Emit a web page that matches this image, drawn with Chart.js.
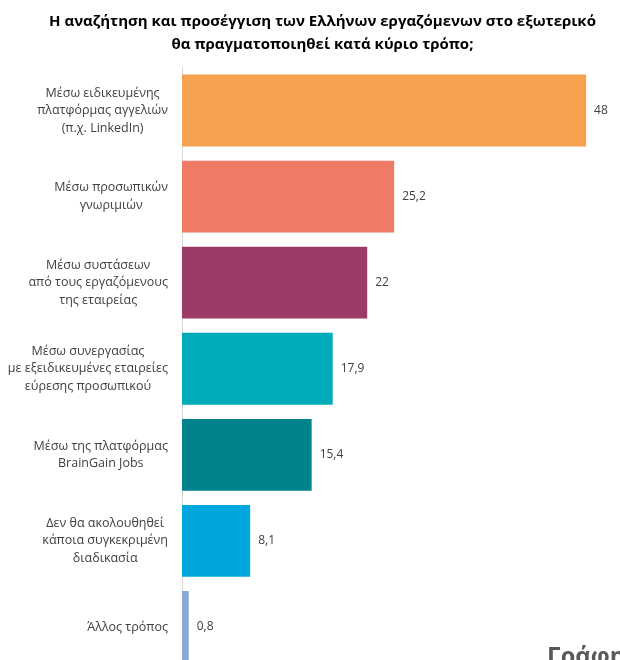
<!DOCTYPE html>
<html>
<head>
<meta charset="utf-8">
<script src="https://cdn.jsdelivr.net/npm/chart.js@4"></script>
<style>
  html, body { margin: 0; padding: 0; background: #fff; overflow: hidden; }
  #wrap { position: absolute; left: 0; top: 0; width: 666px; height: 680px; }
</style>
</head>
<body>
<div id="wrap"><canvas id="waysBar" width="666" height="680"></canvas></div>
<script>
// ===================== τρόποι αναζήτησης εργαζομένων =====================
var categories = [
  ["Μέσω ειδικευμένης", "πλατφόρμας αγγελιών", "(π.χ. LinkedIn)"],
  ["Μέσω προσωπικών", "γνωριμιών"],
  ["Μέσω συστάσεων", "από τους εργαζόμενους", "της εταιρείας"],
  ["Μέσω συνεργασίας", "με εξειδικευμένες εταιρείες", "εύρεσης προσωπικού"],
  ["Μέσω της πλατφόρμας", "BrainGain Jobs"],
  ["Δεν θα ακολουθηθεί", "κάποια συγκεκριμένη", "διαδικασία"],
  ["Άλλος τρόπος"]
];
var values = [48, 25.2, 22, 17.9, 15.4, 8.1, 0.8];
var valueLabels = ["48", "25,2", "22", "17,9", "15,4", "8,1", "0,8"];
var barColors = ["#F5A14D", "#EF7B67", "#9C3B67", "#00ACB9", "#00838A", "#00A7DC", "#8AAAD8"];

var FONT = "'Open Sans', sans-serif";

// ετικέτες κατηγοριών (κάθε μπλοκ δεξιά, γραμμές στο κέντρο) + τιμές
var labelsPlugin = {
  id: "labelsPlugin",
  afterDraw: function (chart) {
    var ctx = chart.ctx;
    var yScale = chart.scales.y;
    var meta = chart.getDatasetMeta(0);
    ctx.save();
    ctx.fillStyle = "#404040";
    ctx.textBaseline = "middle";
    ctx.font = "12.5px " + FONT;
    var right = chart.chartArea.left - 14;
    var lh = 17.5;
    categories.forEach(function (lines, i) {
      var yc = yScale.getPixelForValue(i);
      var w = 0;
      lines.forEach(function (l) { w = Math.max(w, ctx.measureText(l).width); });
      var cx = right - w / 2;
      ctx.textAlign = "center";
      lines.forEach(function (l, k) {
        ctx.fillText(l, cx, yc + (k - (lines.length - 1) / 2) * lh);
      });
    });
    ctx.font = "12px " + FONT;
    ctx.textAlign = "left";
    meta.data.forEach(function (bar, i) {
      ctx.fillText(valueLabels[i], bar.x + 8, bar.y);
    });
    // κομμένος τίτλος γραφήματος κάτω δεξιά
    ctx.fillStyle = "#595959";
    ctx.font = "bold 24px " + FONT;
    ctx.textBaseline = "alphabetic";
    ctx.fillText("Γράφημα", 547, 664);
    ctx.restore();
  }
};

var ctx = document.getElementById("waysBar").getContext("2d");
var waysBar = new Chart(ctx, {
  type: "bar",
  data: {
    labels: categories,
    datasets: [
      {
        data: values,
        backgroundColor: barColors,
        borderWidth: 0,
        categoryPercentage: 1,
        barPercentage: 0.835
      }
    ]
  },
  options: {
    indexAxis: "y",
    responsive: false,
    animation: false,
    layout: { padding: { left: 0, right: 21, top: 0, bottom: 10 } },
    plugins: {
      legend: { display: false },
      tooltip: { enabled: false },
      title: {
        display: true,
        text: [
          "Η αναζήτηση και προσέγγιση των Ελλήνων εργαζόμενων στο εξωτερικό",
          "θα πραγματοποιηθεί κατά κύριο τρόπο;"
        ],
        color: "#000",
        font: { family: FONT, size: 15, weight: "bold", lineHeight: 1.55 },
        padding: { top: 10, bottom: 11 }
      }
    },
    scales: {
      x: { display: false, min: 0, max: 55 },
      y: {
        ticks: { display: false },
        grid: { display: false },
        border: { display: true, color: "#D9D9D9", width: 1 },
        afterFit: function (scale) { scale.width = 182; }
      }
    }
  },
  plugins: [labelsPlugin]
});
</script>
</body>
</html>
